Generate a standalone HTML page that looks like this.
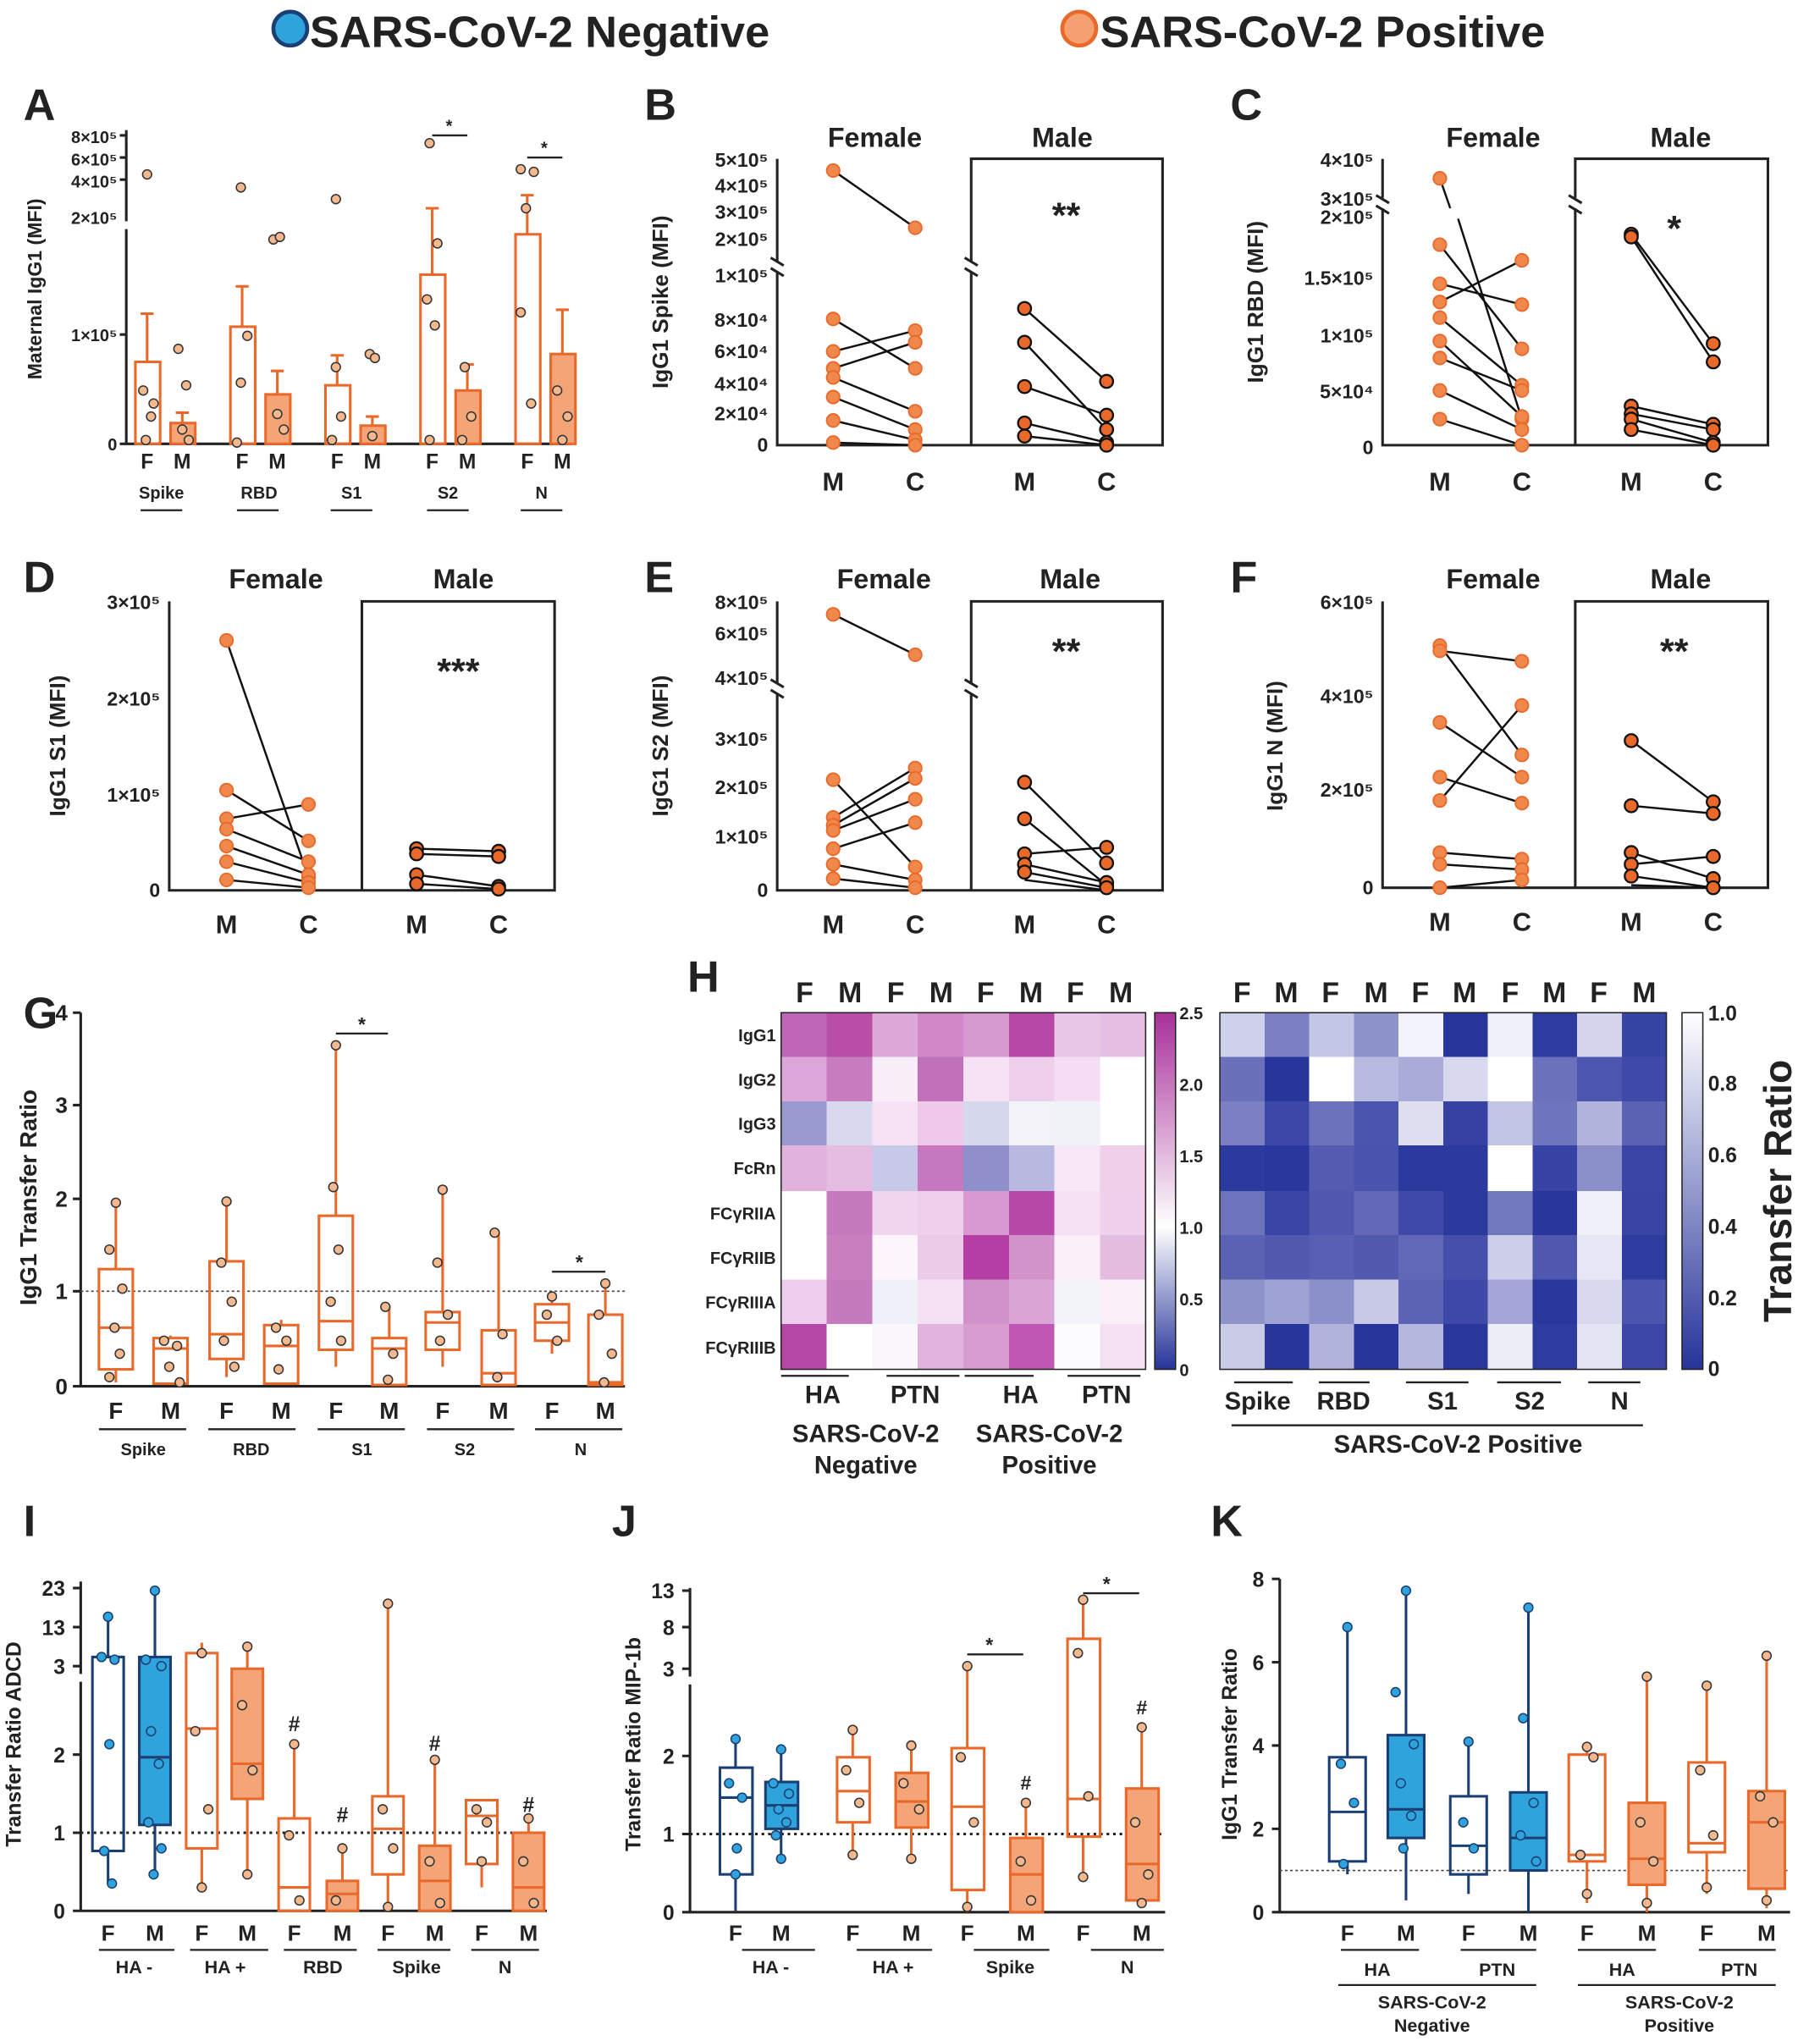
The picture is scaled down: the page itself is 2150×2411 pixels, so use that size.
<!DOCTYPE html><html><head><meta charset="utf-8"><style>body{margin:0;background:#fff}svg{display:block}text{font-family:"Liberation Sans",Arial,sans-serif;font-weight:bold;fill:#222}</style></head><body>
<svg width="2150" height="2411" viewBox="0 0 1398 1568" preserveAspectRatio="none" xmlns="http://www.w3.org/2000/svg">
<rect width="1398" height="1568" fill="#fff"/>
<!-- title -->
<circle cx="223" cy="22" r="13" fill="#2fa3dc" stroke="#1b3f73" stroke-width="3"/>
<text x="238" y="36" font-size="34">SARS-CoV-2 Negative</text>
<circle cx="829" cy="22" r="13" fill="#f4a070" stroke="#e8692a" stroke-width="3"/>
<text x="845" y="36" font-size="34">SARS-CoV-2 Positive</text>
<g font-size="34"><text x="18" y="92">A</text><text x="495" y="92">B</text><text x="945" y="92">C</text><text x="18" y="455">D</text><text x="495" y="455">E</text><text x="945" y="455">F</text><text x="18" y="790">G</text><text x="528" y="762">H</text><text x="18" y="1180">I</text><text x="470" y="1180">J</text><text x="930" y="1180">K</text></g>

<!-- Panel A -->
<g stroke="#222" stroke-width="2" fill="none"><path d="M97 100V170M97 176V341H440M92 104H97M92 121H97M92 138H97M92 257H97M92 341H97"/></g>
<g font-size="13" text-anchor="end"><text x="90" y="110">8×10⁵</text><text x="90" y="127">6×10⁵</text><text x="90" y="144">4×10⁵</text><text x="90" y="172">2×10⁵</text><text x="90" y="262">1×10⁵</text><text x="90" y="346">0</text></g>
<text transform="translate(32,222) rotate(-90)" font-size="15" text-anchor="middle">Maternal IgG1 (MFI)</text>
<g stroke="#e8692a" stroke-width="2">
<rect x="104" y="278" width="19" height="63" fill="none"/><path d="M113 278V241M108 241H118"/>
<rect x="131" y="325" width="19" height="16" fill="#f4a477"/><path d="M140 325V317M135 317H145"/>
<rect x="177" y="251" width="19" height="90" fill="none"/><path d="M186 251V220M181 220H191"/>
<rect x="204" y="303" width="19" height="38" fill="#f4a477"/><path d="M213 303V285M208 285H218"/>
<rect x="250" y="296" width="19" height="45" fill="none"/><path d="M259 296V273M254 273H264"/>
<rect x="277" y="327" width="19" height="14" fill="#f4a477"/><path d="M286 327V320M281 320H291"/>
<rect x="323" y="211" width="19" height="130" fill="none"/><path d="M332 211V160M327 160H337"/>
<rect x="350" y="300" width="19" height="41" fill="#f4a477"/><path d="M359 300V280M354 280H364"/>
<rect x="396" y="180" width="19" height="161" fill="none"/><path d="M405 180V150M400 150H410"/>
<rect x="423" y="272" width="19" height="69" fill="#f4a477"/><path d="M432 272V238M427 238H437"/>
</g>
<g fill="#f4b88e" stroke="#333" stroke-width="1"><circle cx="113" cy="134" r="3.5"/><circle cx="110" cy="300" r="3.5"/><circle cx="116" cy="320" r="3.5"/><circle cx="112" cy="338" r="3.5"/><circle cx="118" cy="310" r="3.5"/><circle cx="137" cy="268" r="3.5"/><circle cx="143" cy="296" r="3.5"/><circle cx="140" cy="330" r="3.5"/><circle cx="145" cy="338" r="3.5"/><circle cx="185" cy="144" r="3.5"/><circle cx="185" cy="294" r="3.5"/><circle cx="190" cy="258" r="3.5"/><circle cx="182" cy="340" r="3.5"/><circle cx="210" cy="184" r="3.5"/><circle cx="215" cy="182" r="3.5"/><circle cx="213" cy="318" r="3.5"/><circle cx="218" cy="330" r="3.5"/><circle cx="258" cy="153" r="3.5"/><circle cx="258" cy="282" r="3.5"/><circle cx="262" cy="320" r="3.5"/><circle cx="255" cy="338" r="3.5"/><circle cx="284" cy="272" r="3.5"/><circle cx="288" cy="275" r="3.5"/><circle cx="286" cy="335" r="3.5"/><circle cx="330" cy="110" r="3.5"/><circle cx="336" cy="187" r="3.5"/><circle cx="328" cy="230" r="3.5"/><circle cx="334" cy="250" r="3.5"/><circle cx="330" cy="338" r="3.5"/><circle cx="357" cy="282" r="3.5"/><circle cx="362" cy="320" r="3.5"/><circle cx="355" cy="338" r="3.5"/><circle cx="400" cy="130" r="3.5"/><circle cx="410" cy="132" r="3.5"/><circle cx="404" cy="160" r="3.5"/><circle cx="400" cy="240" r="3.5"/><circle cx="408" cy="310" r="3.5"/><circle cx="428" cy="300" r="3.5"/><circle cx="436" cy="320" r="3.5"/><circle cx="432" cy="338" r="3.5"/></g>
<g stroke="#222" stroke-width="1.5"><path d="M332 104H359M405 121H432M108 392H140M182 392H214M254 392H286M328 392H360M400 392H432"/></g>
<g font-size="13" text-anchor="middle"><text x="345" y="101">*</text><text x="418" y="118">*</text></g>
<g font-size="16" text-anchor="middle"><text x="113" y="360">F</text><text x="140" y="360">M</text><text x="186" y="360">F</text><text x="213" y="360">M</text><text x="259" y="360">F</text><text x="286" y="360">M</text><text x="332" y="360">F</text><text x="359" y="360">M</text><text x="405" y="360">F</text><text x="432" y="360">M</text></g>
<g font-size="13" text-anchor="middle"><text x="124" y="383">Spike</text><text x="199" y="383">RBD</text><text x="270" y="383">S1</text><text x="344" y="383">S2</text><text x="416" y="383">N</text></g>

<!-- paired panel frames -->
<g stroke="#222" stroke-width="2" fill="none">
<path d="M597 122V342H746M746 122H893V342H746Z"/>
<path d="M1062 122V342H1210M1210 122H1358V342H1210Z"/>
<path d="M130 462V684H278M278 462H426V684H278Z"/>
<path d="M597 462V684H746M746 462H893V684H746Z"/>
<path d="M1062 462V682H1210M1210 462H1358V682H1210Z"/>
</g>
<g fill="#fff"><rect x="590" y="201" width="14" height="8"/><rect x="739" y="201" width="14" height="8"/><rect x="1055" y="152" width="14" height="8"/><rect x="1203" y="152" width="14" height="8"/><rect x="590" y="525" width="14" height="8"/><rect x="739" y="525" width="14" height="8"/></g>
<g stroke="#222" stroke-width="2"><path d="M592 198L602 204M592 206L602 212M741 198L751 204M741 206L751 212M1057 150L1067 156M1057 158L1067 164M1205 150L1215 156M1205 158L1215 164M592 522L602 528M592 530L602 536M741 522L751 528M741 530L751 536"/></g>
<g font-size="21" text-anchor="middle">
<text x="672" y="113">Female</text><text x="816" y="113">Male</text><text x="1147" y="113">Female</text><text x="1291" y="113">Male</text>
<text x="212" y="452">Female</text><text x="356" y="452">Male</text><text x="679" y="452">Female</text><text x="822" y="452">Male</text><text x="1147" y="452">Female</text><text x="1291" y="452">Male</text>
</g>
<g font-size="20" text-anchor="middle">
<text x="640" y="377">M</text><text x="703" y="377">C</text><text x="787" y="377">M</text><text x="850" y="377">C</text>
<text x="1106" y="377">M</text><text x="1169" y="377">C</text><text x="1253" y="377">M</text><text x="1316" y="377">C</text>
<text x="174" y="717">M</text><text x="237" y="717">C</text><text x="320" y="717">M</text><text x="383" y="717">C</text>
<text x="640" y="717">M</text><text x="703" y="717">C</text><text x="787" y="717">M</text><text x="850" y="717">C</text>
<text x="1106" y="715">M</text><text x="1169" y="715">C</text><text x="1253" y="715">M</text><text x="1316" y="715">C</text>
</g>
<g font-size="28" text-anchor="middle"><text x="819" y="175">**</text><text x="1286" y="185">*</text><text x="352" y="525">***</text><text x="819" y="510">**</text><text x="1286" y="510">**</text></g>
<!-- y labels paired -->
<g font-size="17" text-anchor="middle">
<text transform="translate(513,232) rotate(-90)">IgG1 Spike (MFI)</text>
<text transform="translate(970,232) rotate(-90)">IgG1 RBD (MFI)</text>
<text transform="translate(50,573) rotate(-90)">IgG1 S1 (MFI)</text>
<text transform="translate(513,573) rotate(-90)">IgG1 S2 (MFI)</text>
<text transform="translate(985,573) rotate(-90)">IgG1 N (MFI)</text>
</g>
<g font-size="15" text-anchor="end">
<text x="590" y="128">5×10⁵</text><text x="590" y="148">4×10⁵</text><text x="590" y="168">3×10⁵</text><text x="590" y="189">2×10⁵</text><text x="590" y="217">1×10⁵</text><text x="590" y="251">8×10⁴</text><text x="590" y="275">6×10⁴</text><text x="590" y="300">4×10⁴</text><text x="590" y="323">2×10⁴</text><text x="590" y="347">0</text>
<text x="1055" y="128">4×10⁵</text><text x="1055" y="158">3×10⁵</text><text x="1055" y="172">2×10⁵</text><text x="1055" y="219">1.5×10⁵</text><text x="1055" y="263">1×10⁵</text><text x="1055" y="306">5×10⁴</text><text x="1055" y="349">0</text>
<text x="123" y="468">3×10⁵</text><text x="123" y="542">2×10⁵</text><text x="123" y="616">1×10⁵</text><text x="123" y="689">0</text>
<text x="590" y="468">8×10⁵</text><text x="590" y="492">6×10⁵</text><text x="590" y="526">4×10⁵</text><text x="590" y="573">3×10⁵</text><text x="590" y="610">2×10⁵</text><text x="590" y="648">1×10⁵</text><text x="590" y="689">0</text>
<text x="1055" y="468">6×10⁵</text><text x="1055" y="540">4×10⁵</text><text x="1055" y="612">2×10⁵</text><text x="1055" y="687">0</text>
</g>
<!-- paired lines -->
<g stroke="#111" stroke-width="1.6" fill="none">
<path d="M640 131L703 175M640 245L703 283M640 270L703 254M640 283L703 263M640 290L703 316M640 305L703 330M640 323L703 338M640 340L703 342M787 237L850 293M787 263L850 330M787 297L850 319M787 325L850 340M787 335L850 342"/>
<path d="M1106 137L1114 160M1120 168L1169 322M1106 188L1169 268M1106 218L1169 234M1106 232L1169 200M1106 244L1169 296M1106 262L1169 320M1106 275L1169 300M1106 300L1169 330M1106 322L1169 342M1253 180L1316 264M1253 182L1316 278M1253 312L1316 326M1253 318L1316 330M1253 322L1316 340M1253 330L1316 342"/>
<path d="M174 492L237 674M174 607L237 646M174 629L237 618M174 637L237 662M174 650L237 672M174 662L237 678M174 676L237 682M320 652L383 654M320 656L383 658M320 672L383 681M320 679L383 683"/>
<path d="M640 472L703 503M640 599L703 666M640 628L703 590M640 634L703 598M640 638L703 614M640 652L703 632M640 664L703 676M640 675L703 682M787 601L850 663M787 629L850 680M787 656L850 651M787 664L850 678M787 670L850 682M787 676L850 684"/>
<path d="M1106 496L1169 580M1106 500L1169 508M1106 555L1169 597M1106 597L1169 617M1106 615L1169 542M1106 655L1169 660M1106 664L1169 668M1106 682L1169 676M1253 569L1316 616M1253 619L1316 625M1253 655L1316 675M1253 664L1316 658M1253 673L1316 682M1253 680L1316 682"/>
</g>
<g fill="#f0874b" stroke="#e8692a" stroke-width="1.2">
<circle cx="640" cy="131" r="5"/><circle cx="703" cy="175" r="5"/><circle cx="640" cy="245" r="5"/><circle cx="703" cy="283" r="5"/><circle cx="640" cy="270" r="5"/><circle cx="703" cy="254" r="5"/><circle cx="640" cy="283" r="5"/><circle cx="703" cy="263" r="5"/><circle cx="640" cy="290" r="5"/><circle cx="703" cy="316" r="5"/><circle cx="640" cy="305" r="5"/><circle cx="703" cy="330" r="5"/><circle cx="640" cy="323" r="5"/><circle cx="703" cy="338" r="5"/><circle cx="640" cy="340" r="5"/><circle cx="703" cy="342" r="5"/>
<circle cx="1106" cy="137" r="5"/><circle cx="1169" cy="322" r="5"/><circle cx="1106" cy="188" r="5"/><circle cx="1169" cy="268" r="5"/><circle cx="1106" cy="218" r="5"/><circle cx="1169" cy="234" r="5"/><circle cx="1106" cy="232" r="5"/><circle cx="1169" cy="200" r="5"/><circle cx="1106" cy="244" r="5"/><circle cx="1169" cy="296" r="5"/><circle cx="1106" cy="262" r="5"/><circle cx="1169" cy="320" r="5"/><circle cx="1106" cy="275" r="5"/><circle cx="1169" cy="300" r="5"/><circle cx="1106" cy="300" r="5"/><circle cx="1169" cy="330" r="5"/><circle cx="1106" cy="322" r="5"/><circle cx="1169" cy="342" r="5"/>
<circle cx="174" cy="492" r="5"/><circle cx="237" cy="674" r="5"/><circle cx="174" cy="607" r="5"/><circle cx="237" cy="646" r="5"/><circle cx="174" cy="629" r="5"/><circle cx="237" cy="618" r="5"/><circle cx="174" cy="637" r="5"/><circle cx="237" cy="662" r="5"/><circle cx="174" cy="650" r="5"/><circle cx="237" cy="672" r="5"/><circle cx="174" cy="662" r="5"/><circle cx="237" cy="678" r="5"/><circle cx="174" cy="676" r="5"/><circle cx="237" cy="682" r="5"/>
<circle cx="640" cy="472" r="5"/><circle cx="703" cy="503" r="5"/><circle cx="640" cy="599" r="5"/><circle cx="703" cy="666" r="5"/><circle cx="640" cy="628" r="5"/><circle cx="703" cy="590" r="5"/><circle cx="640" cy="634" r="5"/><circle cx="703" cy="598" r="5"/><circle cx="640" cy="638" r="5"/><circle cx="703" cy="614" r="5"/><circle cx="640" cy="652" r="5"/><circle cx="703" cy="632" r="5"/><circle cx="640" cy="664" r="5"/><circle cx="703" cy="676" r="5"/><circle cx="640" cy="675" r="5"/><circle cx="703" cy="682" r="5"/>
<circle cx="1106" cy="496" r="5"/><circle cx="1169" cy="580" r="5"/><circle cx="1106" cy="500" r="5"/><circle cx="1169" cy="508" r="5"/><circle cx="1106" cy="555" r="5"/><circle cx="1169" cy="597" r="5"/><circle cx="1106" cy="597" r="5"/><circle cx="1169" cy="617" r="5"/><circle cx="1106" cy="615" r="5"/><circle cx="1169" cy="542" r="5"/><circle cx="1106" cy="655" r="5"/><circle cx="1169" cy="660" r="5"/><circle cx="1106" cy="664" r="5"/><circle cx="1169" cy="668" r="5"/><circle cx="1106" cy="682" r="5"/><circle cx="1169" cy="676" r="5"/>
</g>
<g fill="#e8692a" stroke="#111" stroke-width="1.5">
<circle cx="787" cy="237" r="5"/><circle cx="850" cy="293" r="5"/><circle cx="787" cy="263" r="5"/><circle cx="850" cy="330" r="5"/><circle cx="787" cy="297" r="5"/><circle cx="850" cy="319" r="5"/><circle cx="787" cy="325" r="5"/><circle cx="850" cy="340" r="5"/><circle cx="787" cy="335" r="5"/><circle cx="850" cy="342" r="5"/>
<circle cx="1253" cy="180" r="5"/><circle cx="1316" cy="264" r="5"/><circle cx="1253" cy="182" r="5"/><circle cx="1316" cy="278" r="5"/><circle cx="1253" cy="312" r="5"/><circle cx="1316" cy="326" r="5"/><circle cx="1253" cy="318" r="5"/><circle cx="1316" cy="330" r="5"/><circle cx="1253" cy="322" r="5"/><circle cx="1316" cy="340" r="5"/><circle cx="1253" cy="330" r="5"/><circle cx="1316" cy="342" r="5"/>
<circle cx="320" cy="652" r="5"/><circle cx="383" cy="654" r="5"/><circle cx="320" cy="656" r="5"/><circle cx="383" cy="658" r="5"/><circle cx="320" cy="672" r="5"/><circle cx="383" cy="681" r="5"/><circle cx="320" cy="679" r="5"/><circle cx="383" cy="683" r="5"/>
<circle cx="787" cy="601" r="5"/><circle cx="850" cy="663" r="5"/><circle cx="787" cy="629" r="5"/><circle cx="850" cy="680" r="5"/><circle cx="787" cy="656" r="5"/><circle cx="850" cy="651" r="5"/><circle cx="787" cy="664" r="5"/><circle cx="850" cy="678" r="5"/><circle cx="787" cy="670" r="5"/><circle cx="850" cy="682" r="5"/>
<circle cx="1253" cy="569" r="5"/><circle cx="1316" cy="616" r="5"/><circle cx="1253" cy="619" r="5"/><circle cx="1316" cy="625" r="5"/><circle cx="1253" cy="655" r="5"/><circle cx="1316" cy="675" r="5"/><circle cx="1253" cy="664" r="5"/><circle cx="1316" cy="658" r="5"/><circle cx="1253" cy="673" r="5"/><circle cx="1316" cy="682" r="5"/>
</g>

<!-- Panel G -->
<g stroke="#222" stroke-width="2" fill="none"><path d="M62 778V1065H480M56 778H62M56 849H62M56 921H62M56 992H62M56 1065H62"/></g>
<path d="M62 992H480" stroke="#444" stroke-width="1" stroke-dasharray="2,2"/>
<g font-size="17" text-anchor="end"><text x="52" y="784">4</text><text x="52" y="855">3</text><text x="52" y="927">2</text><text x="52" y="998">1</text><text x="52" y="1071">0</text></g>
<text transform="translate(28,920) rotate(-90)" font-size="18" text-anchor="middle">IgG1 Transfer Ratio</text>
<g stroke="#e8692a" stroke-width="2" fill="none">
<rect x="76" y="975" width="26" height="77"/><path d="M76 1020H102M89 975V924M89 1052V1062"/>
<rect x="118" y="1028" width="26" height="35"/><path d="M118 1036H144M131 1028V1026"/>
<rect x="161" y="969" width="26" height="75"/><path d="M161 1025H187M174 969V923M174 1044V1058"/>
<rect x="203" y="1018" width="26" height="45"/><path d="M203 1034H229M216 1018V1014"/>
<rect x="245" y="934" width="26" height="103"/><path d="M245 1015H271M258 934V803M258 1037V1050"/>
<rect x="286" y="1028" width="26" height="36"/><path d="M286 1036H312M299 1028V1003"/>
<rect x="327" y="1008" width="26" height="29"/><path d="M327 1016H353M340 1008V914M340 1037V1050"/>
<rect x="370" y="1022" width="26" height="42"/><path d="M370 1055H396M383 1022V947"/>
<rect x="411" y="1002" width="26" height="28"/><path d="M411 1016H437M424 1002V996M424 1030V1040"/>
<rect x="452" y="1010" width="26" height="54"/><path d="M452 1062H478M465 1010V986"/>
</g>
<g fill="#f4b88e" stroke="#333" stroke-width="1"><circle cx="89" cy="924" r="3.5"/><circle cx="84" cy="960" r="3.5"/><circle cx="94" cy="990" r="3.5"/><circle cx="88" cy="1020" r="3.5"/><circle cx="92" cy="1040" r="3.5"/><circle cx="84" cy="1058" r="3.5"/><circle cx="126" cy="1030" r="3.5"/><circle cx="136" cy="1034" r="3.5"/><circle cx="130" cy="1050" r="3.5"/><circle cx="138" cy="1062" r="3.5"/><circle cx="174" cy="923" r="3.5"/><circle cx="170" cy="970" r="3.5"/><circle cx="178" cy="1000" r="3.5"/><circle cx="172" cy="1030" r="3.5"/><circle cx="180" cy="1050" r="3.5"/><circle cx="212" cy="1020" r="3.5"/><circle cx="220" cy="1030" r="3.5"/><circle cx="214" cy="1052" r="3.5"/><circle cx="258" cy="803" r="3.5"/><circle cx="256" cy="912" r="3.5"/><circle cx="260" cy="960" r="3.5"/><circle cx="254" cy="1000" r="3.5"/><circle cx="262" cy="1030" r="3.5"/><circle cx="296" cy="1004" r="3.5"/><circle cx="302" cy="1040" r="3.5"/><circle cx="298" cy="1060" r="3.5"/><circle cx="340" cy="914" r="3.5"/><circle cx="336" cy="970" r="3.5"/><circle cx="344" cy="1010" r="3.5"/><circle cx="338" cy="1030" r="3.5"/><circle cx="380" cy="947" r="3.5"/><circle cx="386" cy="1025" r="3.5"/><circle cx="382" cy="1058" r="3.5"/><circle cx="424" cy="996" r="3.5"/><circle cx="420" cy="1010" r="3.5"/><circle cx="428" cy="1030" r="3.5"/><circle cx="465" cy="986" r="3.5"/><circle cx="460" cy="1010" r="3.5"/><circle cx="470" cy="1040" r="3.5"/><circle cx="464" cy="1062" r="3.5"/></g>
<g stroke="#222" stroke-width="1.5"><path d="M258 794H298M424 977H465M76 1098H143M160 1098H227M244 1098H311M328 1098H395M411 1098H478"/></g>
<g font-size="15" text-anchor="middle"><text x="278" y="792">*</text><text x="445" y="975">*</text></g>
<g font-size="18" text-anchor="middle"><text x="89" y="1090">F</text><text x="131" y="1090">M</text><text x="174" y="1090">F</text><text x="216" y="1090">M</text><text x="258" y="1090">F</text><text x="299" y="1090">M</text><text x="340" y="1090">F</text><text x="383" y="1090">M</text><text x="424" y="1090">F</text><text x="465" y="1090">M</text></g>
<g font-size="13" text-anchor="middle"><text x="110" y="1118">Spike</text><text x="193" y="1118">RBD</text><text x="278" y="1118">S1</text><text x="357" y="1118">S2</text><text x="446" y="1118">N</text></g>

<!-- Panel H heatmap 1 -->
<g font-size="22" text-anchor="middle"><text x="618" y="770">F</text><text x="653" y="770">M</text><text x="688" y="770">F</text><text x="723" y="770">M</text><text x="757" y="770">F</text><text x="792" y="770">M</text><text x="826" y="770">F</text><text x="861" y="770">M</text>
<text x="954" y="770">F</text><text x="988" y="770">M</text><text x="1022" y="770">F</text><text x="1057" y="770">M</text><text x="1091" y="770">F</text><text x="1125" y="770">M</text><text x="1160" y="770">F</text><text x="1194" y="770">M</text><text x="1228" y="770">F</text><text x="1263" y="770">M</text></g>
<g font-size="13" text-anchor="end"><text x="596" y="800">IgG1</text><text x="596" y="834">IgG2</text><text x="596" y="868">IgG3</text><text x="596" y="902">FcRn</text><text x="596" y="937">FCγRIIA</text><text x="596" y="971">FCγRIIB</text><text x="596" y="1005">FCγRIIIA</text><text x="596" y="1040">FCγRIIIB</text></g>
<g shape-rendering="crispEdges">
<g transform="translate(600,778)">
<rect x="0" y="0" width="35" height="35" fill="#c066b8"/><rect x="35" y="0" width="35" height="35" fill="#b84ea8"/><rect x="70" y="0" width="35" height="35" fill="#dca8d8"/><rect x="105" y="0" width="35" height="35" fill="#d088c8"/><rect x="140" y="0" width="35" height="35" fill="#d598cf"/><rect x="175" y="0" width="35" height="35" fill="#b848a8"/><rect x="210" y="0" width="35" height="35" fill="#e8c6e6"/><rect x="245" y="0" width="35" height="35" fill="#e6c0e4"/>
<rect x="0" y="34" width="35" height="35" fill="#dda6d9"/><rect x="35" y="34" width="35" height="35" fill="#c97bc0"/><rect x="70" y="34" width="35" height="35" fill="#f8eef8"/><rect x="105" y="34" width="35" height="35" fill="#c071ba"/><rect x="140" y="34" width="35" height="35" fill="#f6e2f4"/><rect x="175" y="34" width="35" height="35" fill="#efd0ec"/><rect x="210" y="34" width="35" height="35" fill="#f5def3"/><rect x="245" y="34" width="35" height="35" fill="#ffffff"/>
<rect x="0" y="68" width="35" height="35" fill="#9a9ad0"/><rect x="35" y="68" width="35" height="35" fill="#d8d8ee"/><rect x="70" y="68" width="35" height="35" fill="#f6e2f4"/><rect x="105" y="68" width="35" height="35" fill="#eec9ea"/><rect x="140" y="68" width="35" height="35" fill="#d6d8ee"/><rect x="175" y="68" width="35" height="35" fill="#f2f2f8"/><rect x="210" y="68" width="35" height="35" fill="#f1f1f8"/><rect x="245" y="68" width="35" height="35" fill="#ffffff"/>
<rect x="0" y="102" width="35" height="35" fill="#e1b2dc"/><rect x="35" y="102" width="35" height="35" fill="#e6bde2"/><rect x="70" y="102" width="35" height="35" fill="#c8c8e8"/><rect x="105" y="102" width="35" height="35" fill="#c678be"/><rect x="140" y="102" width="35" height="35" fill="#8e8fcb"/><rect x="175" y="102" width="35" height="35" fill="#b8b8e0"/><rect x="210" y="102" width="35" height="35" fill="#f8e8f6"/><rect x="245" y="102" width="35" height="35" fill="#f0cfea"/>
<rect x="0" y="137" width="35" height="35" fill="#ffffff"/><rect x="35" y="137" width="35" height="35" fill="#c57abd"/><rect x="70" y="137" width="35" height="35" fill="#f1d4ee"/><rect x="105" y="137" width="35" height="35" fill="#efd0ec"/><rect x="140" y="137" width="35" height="35" fill="#d898d1"/><rect x="175" y="137" width="35" height="35" fill="#b848a8"/><rect x="210" y="137" width="35" height="35" fill="#f5e0f3"/><rect x="245" y="137" width="35" height="35" fill="#efd0ec"/>
<rect x="0" y="171" width="35" height="35" fill="#ffffff"/><rect x="35" y="171" width="35" height="35" fill="#c87fc0"/><rect x="70" y="171" width="35" height="35" fill="#fcf6fc"/><rect x="105" y="171" width="35" height="35" fill="#eccbe8"/><rect x="140" y="171" width="35" height="35" fill="#b43ea3"/><rect x="175" y="171" width="35" height="35" fill="#d292ca"/><rect x="210" y="171" width="35" height="35" fill="#faeff8"/><rect x="245" y="171" width="35" height="35" fill="#e4bce0"/>
<rect x="0" y="205" width="35" height="35" fill="#efcdec"/><rect x="35" y="205" width="35" height="35" fill="#c57abd"/><rect x="70" y="205" width="35" height="35" fill="#f0f0f8"/><rect x="105" y="205" width="35" height="35" fill="#f5dff3"/><rect x="140" y="205" width="35" height="35" fill="#d191ca"/><rect x="175" y="205" width="35" height="35" fill="#daa4d5"/><rect x="210" y="205" width="35" height="35" fill="#f3f3fa"/><rect x="245" y="205" width="35" height="35" fill="#faeff8"/>
<rect x="0" y="239" width="35" height="35" fill="#b548a6"/><rect x="35" y="239" width="35" height="35" fill="#ffffff"/><rect x="70" y="239" width="35" height="35" fill="#fbf6fb"/><rect x="105" y="239" width="35" height="35" fill="#e0b4dc"/><rect x="140" y="239" width="35" height="35" fill="#d89cd1"/><rect x="175" y="239" width="35" height="35" fill="#c057b4"/><rect x="210" y="239" width="35" height="35" fill="#fcfcfe"/><rect x="245" y="239" width="35" height="35" fill="#f5e0f3"/>
</g>
<g transform="translate(937,778)">
<rect x="0" y="0" width="35" height="35" fill="#cfd0ea"/><rect x="34.3" y="0" width="35" height="35" fill="#7a7fc2"/><rect x="68.6" y="0" width="35" height="35" fill="#c4c6e6"/><rect x="102.9" y="0" width="35" height="35" fill="#8f93cc"/><rect x="137.2" y="0" width="35" height="35" fill="#f2f2fa"/><rect x="171.5" y="0" width="35" height="35" fill="#28369c"/><rect x="205.8" y="0" width="35" height="35" fill="#f0f0f8"/><rect x="240.1" y="0" width="35" height="35" fill="#2e3c9f"/><rect x="274.4" y="0" width="35" height="35" fill="#d4d5ec"/><rect x="308.7" y="0" width="34.3" height="35" fill="#3644a4"/>
<rect x="0" y="34" width="35" height="35" fill="#6a70ba"/><rect x="34.3" y="34" width="35" height="35" fill="#28369c"/><rect x="68.6" y="34" width="35" height="35" fill="#ffffff"/><rect x="102.9" y="34" width="35" height="35" fill="#b8bbe0"/><rect x="137.2" y="34" width="35" height="35" fill="#a9acd9"/><rect x="171.5" y="34" width="35" height="35" fill="#d8d9ee"/><rect x="205.8" y="34" width="35" height="35" fill="#ffffff"/><rect x="240.1" y="34" width="35" height="35" fill="#6b72bb"/><rect x="274.4" y="34" width="35" height="35" fill="#4d56ae"/><rect x="308.7" y="34" width="34.3" height="35" fill="#3f4aa8"/>
<rect x="0" y="68" width="35" height="35" fill="#7b80c2"/><rect x="34.3" y="68" width="35" height="35" fill="#3c47a6"/><rect x="68.6" y="68" width="35" height="35" fill="#6c72bb"/><rect x="102.9" y="68" width="35" height="35" fill="#4c55ad"/><rect x="137.2" y="68" width="35" height="35" fill="#dedff0"/><rect x="171.5" y="68" width="35" height="35" fill="#3541a3"/><rect x="205.8" y="68" width="35" height="35" fill="#c2c4e5"/><rect x="240.1" y="68" width="35" height="35" fill="#6f75bd"/><rect x="274.4" y="68" width="35" height="35" fill="#b1b3dc"/><rect x="308.7" y="68" width="34.3" height="35" fill="#5a62b4"/>
<rect x="0" y="102" width="35" height="35" fill="#2c3a9e"/><rect x="34.3" y="102" width="35" height="35" fill="#2a389d"/><rect x="68.6" y="102" width="35" height="35" fill="#545cb1"/><rect x="102.9" y="102" width="35" height="35" fill="#4b54ad"/><rect x="137.2" y="102" width="35" height="35" fill="#2c3a9e"/><rect x="171.5" y="102" width="35" height="35" fill="#2c3a9e"/><rect x="205.8" y="102" width="35" height="35" fill="#ffffff"/><rect x="240.1" y="102" width="35" height="35" fill="#3844a5"/><rect x="274.4" y="102" width="35" height="35" fill="#8a8ec9"/><rect x="308.7" y="102" width="34.3" height="35" fill="#3a46a6"/>
<rect x="0" y="137" width="35" height="35" fill="#6e74bc"/><rect x="34.3" y="137" width="35" height="35" fill="#3a46a6"/><rect x="68.6" y="137" width="35" height="35" fill="#4f58ae"/><rect x="102.9" y="137" width="35" height="35" fill="#6268b6"/><rect x="137.2" y="137" width="35" height="35" fill="#3f4aa8"/><rect x="171.5" y="137" width="35" height="35" fill="#2c3a9e"/><rect x="205.8" y="137" width="35" height="35" fill="#7278be"/><rect x="240.1" y="137" width="35" height="35" fill="#29379c"/><rect x="274.4" y="137" width="35" height="35" fill="#f0f0f8"/><rect x="308.7" y="137" width="34.3" height="35" fill="#3945a5"/>
<rect x="0" y="171" width="35" height="35" fill="#5a62b4"/><rect x="34.3" y="171" width="35" height="35" fill="#525aaf"/><rect x="68.6" y="171" width="35" height="35" fill="#5860b3"/><rect x="102.9" y="171" width="35" height="35" fill="#525aaf"/><rect x="137.2" y="171" width="35" height="35" fill="#6168b6"/><rect x="171.5" y="171" width="35" height="35" fill="#464fab"/><rect x="205.8" y="171" width="35" height="35" fill="#cdcfe9"/><rect x="240.1" y="171" width="35" height="35" fill="#4f58ae"/><rect x="274.4" y="171" width="35" height="35" fill="#e6e7f4"/><rect x="308.7" y="171" width="34.3" height="35" fill="#2e3c9f"/>
<rect x="0" y="205" width="35" height="35" fill="#8f93cc"/><rect x="34.3" y="205" width="35" height="35" fill="#9fa2d4"/><rect x="68.6" y="205" width="35" height="35" fill="#8b8fca"/><rect x="102.9" y="205" width="35" height="35" fill="#c7c9e6"/><rect x="137.2" y="205" width="35" height="35" fill="#5c63b4"/><rect x="171.5" y="205" width="35" height="35" fill="#3e49a7"/><rect x="205.8" y="205" width="35" height="35" fill="#a2a5d6"/><rect x="240.1" y="205" width="35" height="35" fill="#2a389d"/><rect x="274.4" y="205" width="35" height="35" fill="#d8d9ee"/><rect x="308.7" y="205" width="34.3" height="35" fill="#4c55ad"/>
<rect x="0" y="239" width="35" height="35" fill="#c9cbe7"/><rect x="34.3" y="239" width="35" height="35" fill="#28369c"/><rect x="68.6" y="239" width="35" height="35" fill="#b1b3dc"/><rect x="102.9" y="239" width="35" height="35" fill="#28369c"/><rect x="137.2" y="239" width="35" height="35" fill="#b5b7de"/><rect x="171.5" y="239" width="35" height="35" fill="#2a389d"/><rect x="205.8" y="239" width="35" height="35" fill="#ecedf6"/><rect x="240.1" y="239" width="35" height="35" fill="#2e3c9f"/><rect x="274.4" y="239" width="35" height="35" fill="#e4e5f3"/><rect x="308.7" y="239" width="34.3" height="35" fill="#3c47a6"/>
</g>
</g>
<defs>
<linearGradient id="pk" x1="0" y1="1" x2="0" y2="0"><stop offset="0" stop-color="#26349a"/><stop offset="0.4" stop-color="#ffffff"/><stop offset="1" stop-color="#a8309a"/></linearGradient>
<linearGradient id="bl" x1="0" y1="1" x2="0" y2="0"><stop offset="0" stop-color="#26349a"/><stop offset="1" stop-color="#ffffff"/></linearGradient>
</defs>
<rect x="887" y="778" width="16" height="274" fill="url(#pk)" stroke="#222" stroke-width="1"/>
<rect x="1292" y="778" width="16" height="274" fill="url(#bl)" stroke="#222" stroke-width="1"/>
<rect x="600" y="778" width="280" height="274" fill="none" stroke="#222" stroke-width="1"/>
<rect x="937" y="778" width="343" height="274" fill="none" stroke="#222" stroke-width="1"/>
<g font-size="13"><text x="906" y="783">2.5</text><text x="906" y="838">2.0</text><text x="906" y="893">1.5</text><text x="906" y="948">1.0</text><text x="906" y="1003">0.5</text><text x="906" y="1057">0</text></g>
<g font-size="16"><text x="1312" y="784">1.0</text><text x="1312" y="838">0.8</text><text x="1312" y="893">0.6</text><text x="1312" y="948">0.4</text><text x="1312" y="1003">0.2</text><text x="1312" y="1057">0</text></g>
<text transform="translate(1376,915) rotate(-90)" font-size="30" text-anchor="middle">Transfer Ratio</text>
<g stroke="#222" stroke-width="1.5"><path d="M600 1057H652M681 1057H737M741 1057H794M820 1057H876M948 1062H993M1013 1062H1052M1080 1062H1128M1150 1062H1199M1220 1062H1260M946 1095H1262"/></g>
<g font-size="19" text-anchor="middle"><text x="632" y="1078">HA</text><text x="703" y="1078">PTN</text><text x="784" y="1078">HA</text><text x="850" y="1078">PTN</text><text x="665" y="1108">SARS-CoV-2</text><text x="665" y="1132">Negative</text><text x="806" y="1108">SARS-CoV-2</text><text x="806" y="1132">Positive</text>
<text x="966" y="1083">Spike</text><text x="1032" y="1083">RBD</text><text x="1108" y="1083">S1</text><text x="1175" y="1083">S2</text><text x="1244" y="1083">N</text><text x="1120" y="1116">SARS-CoV-2 Positive</text></g>

<!-- Panel I -->
<g stroke="#222" stroke-width="2" fill="none"><path d="M62 1215V1286M62 1292V1468H420M56 1220H62M56 1250H62M56 1280H62M56 1348H62M56 1408H62M56 1468H62"/></g>
<path d="M62 1408H420" stroke="#222" stroke-width="2" stroke-dasharray="2,3"/>
<g font-size="16" text-anchor="end"><text x="50" y="1226">23</text><text x="50" y="1256">13</text><text x="50" y="1286">3</text><text x="50" y="1354">2</text><text x="50" y="1414">1</text><text x="50" y="1474">0</text></g>
<text transform="translate(16,1340) rotate(-90)" font-size="16" text-anchor="middle">Transfer Ratio ADCD</text>
<g stroke="#1b3f73" stroke-width="2">
<rect x="71" y="1273" width="24" height="149" fill="none"/><path d="M83 1273V1242M83 1422V1447M71 1273H95"/>
<rect x="107" y="1273" width="24" height="129" fill="#2fa3dc"/><path d="M107 1350H131M119 1273V1222M119 1402V1440"/>
</g>
<g stroke="#e8692a" stroke-width="2">
<rect x="143" y="1270" width="24" height="150" fill="none"/><path d="M143 1328H167M155 1270V1262M155 1420V1452"/>
<rect x="178" y="1282" width="24" height="100" fill="#f4a477"/><path d="M178 1355H202M190 1282V1262M190 1382V1443"/>
<rect x="214" y="1397" width="24" height="71" fill="none"/><path d="M214 1450H238M226 1397V1340"/>
<rect x="251" y="1445" width="24" height="23" fill="#f4a477"/><path d="M251 1455H275M263 1445V1420"/>
<rect x="286" y="1380" width="24" height="60" fill="none"/><path d="M286 1405H310M298 1380V1232M298 1440V1468"/>
<rect x="322" y="1418" width="24" height="50" fill="#f4a477"/><path d="M322 1445H346M334 1418V1352"/>
<rect x="358" y="1383" width="24" height="49" fill="none"/><path d="M358 1395H382M370 1432V1450"/>
<rect x="394" y="1408" width="24" height="60" fill="#f4a477"/><path d="M394 1450H418M406 1408V1397"/>
</g>
<g fill="#2fa3dc" stroke="#1b3f73" stroke-width="1"><circle cx="83" cy="1242" r="3.5"/><circle cx="78" cy="1273" r="3.5"/><circle cx="88" cy="1275" r="3.5"/><circle cx="84" cy="1340" r="3.5"/><circle cx="80" cy="1422" r="3.5"/><circle cx="86" cy="1447" r="3.5"/><circle cx="119" cy="1222" r="3.5"/><circle cx="112" cy="1275" r="3.5"/><circle cx="124" cy="1280" r="3.5"/><circle cx="116" cy="1330" r="3.5"/><circle cx="122" cy="1355" r="3.5"/><circle cx="114" cy="1400" r="3.5"/><circle cx="124" cy="1420" r="3.5"/><circle cx="118" cy="1440" r="3.5"/></g>
<g fill="#f4b88e" stroke="#333" stroke-width="1"><circle cx="155" cy="1270" r="3.5"/><circle cx="150" cy="1330" r="3.5"/><circle cx="160" cy="1390" r="3.5"/><circle cx="155" cy="1450" r="3.5"/><circle cx="190" cy="1265" r="3.5"/><circle cx="186" cy="1310" r="3.5"/><circle cx="194" cy="1360" r="3.5"/><circle cx="190" cy="1440" r="3.5"/><circle cx="226" cy="1340" r="3.5"/><circle cx="222" cy="1410" r="3.5"/><circle cx="230" cy="1460" r="3.5"/><circle cx="263" cy="1420" r="3.5"/><circle cx="258" cy="1460" r="3.5"/><circle cx="298" cy="1232" r="3.5"/><circle cx="294" cy="1390" r="3.5"/><circle cx="302" cy="1420" r="3.5"/><circle cx="298" cy="1465" r="3.5"/><circle cx="334" cy="1352" r="3.5"/><circle cx="330" cy="1430" r="3.5"/><circle cx="338" cy="1462" r="3.5"/><circle cx="366" cy="1390" r="3.5"/><circle cx="374" cy="1400" r="3.5"/><circle cx="370" cy="1430" r="3.5"/><circle cx="406" cy="1397" r="3.5"/><circle cx="402" cy="1430" r="3.5"/><circle cx="410" cy="1462" r="3.5"/></g>
<g font-size="16" text-anchor="middle"><text x="226" y="1330">#</text><text x="263" y="1400">#</text><text x="334" y="1345">#</text><text x="406" y="1392">#</text></g>
<g font-size="17" text-anchor="middle"><text x="83" y="1491">F</text><text x="119" y="1491">M</text><text x="155" y="1491">F</text><text x="190" y="1491">M</text><text x="226" y="1491">F</text><text x="263" y="1491">M</text><text x="298" y="1491">F</text><text x="334" y="1491">M</text><text x="370" y="1491">F</text><text x="406" y="1491">M</text></g>
<g stroke="#222" stroke-width="1.5"><path d="M76 1498H134M146 1498H206M218 1498H274M290 1498H346M362 1498H414"/></g>
<g font-size="14" text-anchor="middle"><text x="103" y="1516">HA -</text><text x="173" y="1516">HA +</text><text x="248" y="1516">RBD</text><text x="320" y="1516">Spike</text><text x="388" y="1516">N</text></g>

<!-- Panel J -->
<g stroke="#222" stroke-width="2" fill="none"><path d="M530 1220V1288M530 1294V1469H895M524 1222H530M524 1250H530M524 1282H530M524 1349H530M524 1409H530M524 1469H530"/></g>
<path d="M530 1409H895" stroke="#222" stroke-width="2" stroke-dasharray="2,3"/>
<g font-size="16" text-anchor="end"><text x="518" y="1228">13</text><text x="518" y="1256">8</text><text x="518" y="1288">3</text><text x="518" y="1355">2</text><text x="518" y="1415">1</text><text x="518" y="1475">0</text></g>
<text transform="translate(492,1340) rotate(-90)" font-size="16" text-anchor="middle">Transfer Ratio MIP-1b</text>
<g stroke="#1b3f73" stroke-width="2">
<rect x="553" y="1358" width="25" height="82" fill="none"/><path d="M553 1381H578M565 1358V1336M565 1440V1468"/>
<rect x="588" y="1369" width="25" height="36" fill="#2fa3dc"/><path d="M588 1387H613M600 1369V1344M600 1405V1428"/>
</g>
<g stroke="#e8692a" stroke-width="2">
<rect x="643" y="1350" width="25" height="50" fill="none"/><path d="M643 1376H668M655 1350V1329M655 1400V1425"/>
<rect x="688" y="1362" width="25" height="42" fill="#f4a477"/><path d="M688 1384H713M700 1362V1341M700 1404V1428"/>
<rect x="731" y="1343" width="25" height="109" fill="none"/><path d="M731 1388H756M743 1343V1280M743 1452V1469"/>
<rect x="776" y="1412" width="25" height="57" fill="#f4a477"/><path d="M776 1440H801M788 1412V1385"/>
<rect x="820" y="1259" width="25" height="152" fill="none"/><path d="M820 1382H845M832 1259V1229M832 1411V1442"/>
<rect x="865" y="1374" width="25" height="86" fill="#f4a477"/><path d="M865 1432H890M877 1374V1327M877 1460V1466"/>
</g>
<g fill="#2fa3dc" stroke="#1b3f73" stroke-width="1"><circle cx="565" cy="1336" r="3.5"/><circle cx="560" cy="1370" r="3.5"/><circle cx="570" cy="1381" r="3.5"/><circle cx="566" cy="1420" r="3.5"/><circle cx="565" cy="1440" r="3.5"/><circle cx="600" cy="1344" r="3.5"/><circle cx="594" cy="1370" r="3.5"/><circle cx="606" cy="1378" r="3.5"/><circle cx="598" cy="1390" r="3.5"/><circle cx="604" cy="1400" r="3.5"/><circle cx="596" cy="1410" r="3.5"/><circle cx="600" cy="1428" r="3.5"/></g>
<g fill="#f4b88e" stroke="#333" stroke-width="1"><circle cx="655" cy="1329" r="3.5"/><circle cx="650" cy="1360" r="3.5"/><circle cx="660" cy="1385" r="3.5"/><circle cx="655" cy="1425" r="3.5"/><circle cx="700" cy="1341" r="3.5"/><circle cx="694" cy="1370" r="3.5"/><circle cx="706" cy="1390" r="3.5"/><circle cx="700" cy="1428" r="3.5"/><circle cx="743" cy="1280" r="3.5"/><circle cx="738" cy="1350" r="3.5"/><circle cx="748" cy="1400" r="3.5"/><circle cx="743" cy="1465" r="3.5"/><circle cx="788" cy="1385" r="3.5"/><circle cx="784" cy="1430" r="3.5"/><circle cx="792" cy="1460" r="3.5"/><circle cx="832" cy="1229" r="3.5"/><circle cx="828" cy="1270" r="3.5"/><circle cx="836" cy="1380" r="3.5"/><circle cx="832" cy="1442" r="3.5"/><circle cx="877" cy="1327" r="3.5"/><circle cx="872" cy="1400" r="3.5"/><circle cx="882" cy="1440" r="3.5"/><circle cx="877" cy="1462" r="3.5"/></g>
<g stroke="#222" stroke-width="1.5"><path d="M743 1271H786M832 1224H875M570 1498H626M658 1498H716M748 1498H806M838 1498H894"/></g>
<g font-size="15" text-anchor="middle"><text x="760" y="1269">*</text><text x="850" y="1222">*</text><text x="788" y="1375">#</text><text x="877" y="1317">#</text></g>
<g font-size="17" text-anchor="middle"><text x="565" y="1491">F</text><text x="600" y="1491">M</text><text x="655" y="1491">F</text><text x="700" y="1491">M</text><text x="743" y="1491">F</text><text x="788" y="1491">M</text><text x="832" y="1491">F</text><text x="877" y="1491">M</text></g>
<g font-size="14" text-anchor="middle"><text x="592" y="1516">HA -</text><text x="686" y="1516">HA +</text><text x="776" y="1516">Spike</text><text x="866" y="1516">N</text></g>

<!-- Panel K -->
<g stroke="#222" stroke-width="2" fill="none"><path d="M983 1213V1469H1375M977 1213H983M977 1277H983M977 1341H983M977 1405H983M977 1469H983"/></g>
<path d="M983 1437H1375" stroke="#444" stroke-width="1" stroke-dasharray="2,2"/>
<g font-size="16" text-anchor="end"><text x="971" y="1219">8</text><text x="971" y="1283">6</text><text x="971" y="1347">4</text><text x="971" y="1411">2</text><text x="971" y="1475">0</text></g>
<text transform="translate(950,1340) rotate(-90)" font-size="16" text-anchor="middle">IgG1 Transfer Ratio</text>
<g stroke="#1b3f73" stroke-width="2">
<rect x="1021" y="1350" width="28" height="80" fill="none"/><path d="M1021 1392H1049M1035 1350V1250M1035 1430V1440"/>
<rect x="1066" y="1333" width="28" height="79" fill="#2fa3dc"/><path d="M1066 1390H1094M1080 1333V1222M1080 1412V1460"/>
<rect x="1114" y="1380" width="28" height="60" fill="none"/><path d="M1114 1418H1142M1128 1380V1338M1128 1440V1455"/>
<rect x="1160" y="1377" width="28" height="60" fill="#2fa3dc"/><path d="M1160 1412H1188M1174 1377V1235M1174 1437V1469"/>
</g>
<g stroke="#e8692a" stroke-width="2">
<rect x="1205" y="1348" width="28" height="82" fill="none"/><path d="M1205 1425H1233M1219 1348V1342M1219 1430V1462"/>
<rect x="1251" y="1385" width="28" height="63" fill="#f4a477"/><path d="M1251 1428H1279M1265 1385V1288M1265 1448V1469"/>
<rect x="1297" y="1354" width="28" height="69" fill="none"/><path d="M1297 1416H1325M1311 1354V1295M1311 1423V1455"/>
<rect x="1343" y="1376" width="28" height="75" fill="#f4a477"/><path d="M1343 1400H1371M1357 1376V1272M1357 1451V1466"/>
</g>
<g fill="#2fa3dc" stroke="#1b3f73" stroke-width="1"><circle cx="1035" cy="1250" r="3.5"/><circle cx="1030" cy="1355" r="3.5"/><circle cx="1040" cy="1385" r="3.5"/><circle cx="1032" cy="1432" r="3.5"/><circle cx="1080" cy="1222" r="3.5"/><circle cx="1072" cy="1300" r="3.5"/><circle cx="1086" cy="1340" r="3.5"/><circle cx="1076" cy="1370" r="3.5"/><circle cx="1084" cy="1395" r="3.5"/><circle cx="1078" cy="1420" r="3.5"/><circle cx="1128" cy="1338" r="3.5"/><circle cx="1124" cy="1400" r="3.5"/><circle cx="1132" cy="1420" r="3.5"/><circle cx="1174" cy="1235" r="3.5"/><circle cx="1170" cy="1320" r="3.5"/><circle cx="1178" cy="1385" r="3.5"/><circle cx="1168" cy="1410" r="3.5"/><circle cx="1180" cy="1430" r="3.5"/></g>
<g fill="#f4b88e" stroke="#333" stroke-width="1"><circle cx="1219" cy="1342" r="3.5"/><circle cx="1224" cy="1350" r="3.5"/><circle cx="1214" cy="1425" r="3.5"/><circle cx="1219" cy="1455" r="3.5"/><circle cx="1265" cy="1288" r="3.5"/><circle cx="1260" cy="1400" r="3.5"/><circle cx="1270" cy="1430" r="3.5"/><circle cx="1265" cy="1462" r="3.5"/><circle cx="1311" cy="1295" r="3.5"/><circle cx="1306" cy="1360" r="3.5"/><circle cx="1316" cy="1410" r="3.5"/><circle cx="1311" cy="1450" r="3.5"/><circle cx="1357" cy="1272" r="3.5"/><circle cx="1352" cy="1380" r="3.5"/><circle cx="1362" cy="1400" r="3.5"/><circle cx="1357" cy="1460" r="3.5"/></g>
<g font-size="17" text-anchor="middle"><text x="1035" y="1491">F</text><text x="1080" y="1491">M</text><text x="1128" y="1491">F</text><text x="1174" y="1491">M</text><text x="1219" y="1491">F</text><text x="1265" y="1491">M</text><text x="1311" y="1491">F</text><text x="1357" y="1491">M</text></g>
<g stroke="#222" stroke-width="1.5"><path d="M1030 1498H1090M1122 1498H1180M1212 1498H1272M1305 1498H1364M1028 1525H1180M1212 1525H1364"/></g>
<g font-size="14" text-anchor="middle"><text x="1058" y="1518">HA</text><text x="1150" y="1518">PTN</text><text x="1246" y="1518">HA</text><text x="1336" y="1518">PTN</text><text x="1100" y="1543">SARS-CoV-2</text><text x="1100" y="1561">Negative</text><text x="1290" y="1543">SARS-CoV-2</text><text x="1290" y="1561">Positive</text></g>
</svg>
</body></html>
